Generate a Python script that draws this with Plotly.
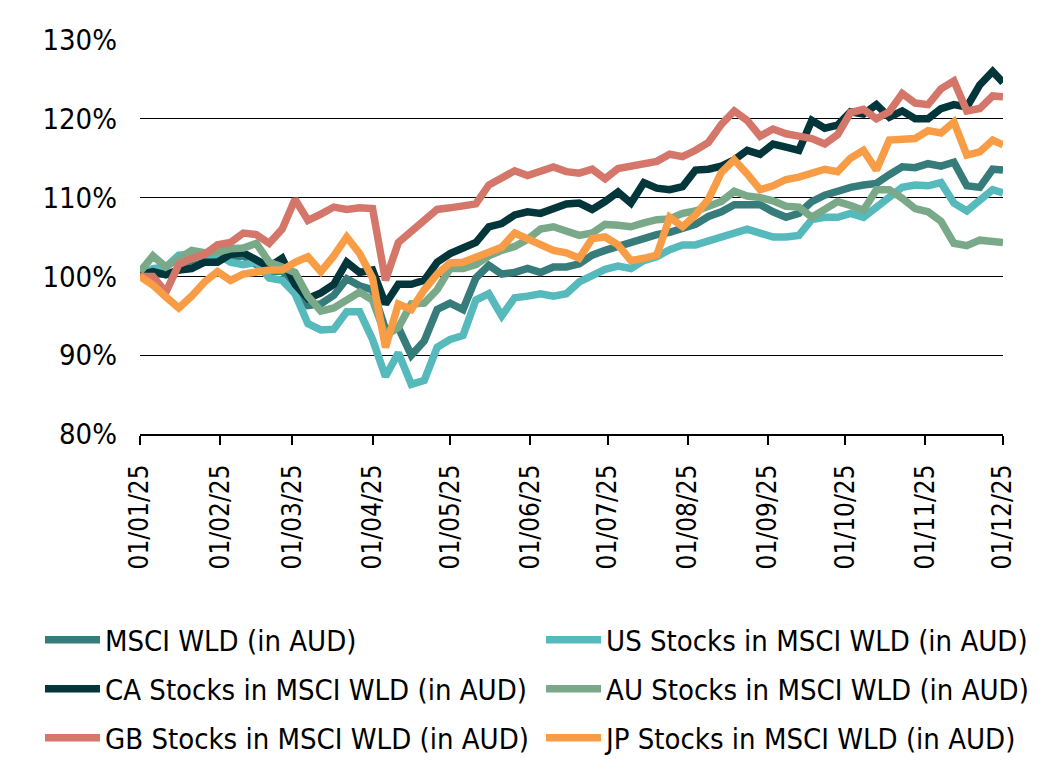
import pandas as pd
import plotly.graph_objects as go

# one reading every 5 days from 01/01/25, last one on 01/12/25
dates = list(pd.date_range("2025-01-01", periods=67, freq="5D")) + [pd.Timestamp("2025-12-01")]

msci = [100.0, 100.3, 100.3, 100.9, 101.3, 101.8, 102.1, 102.4, 102.6, 101.5,
        100.6, 100.8, 98.5, 96.3, 96.5, 97.6, 99.7, 98.8, 98.3, 93.3,
        93.5, 90.0, 91.8, 95.8, 96.6, 95.8, 99.8, 101.4, 100.3, 100.5,
        101.0, 100.5, 101.2, 101.2, 101.6, 102.7, 103.3, 103.8, 104.3, 104.9,
        105.3, 105.6, 106.0, 106.6, 107.6, 108.2, 109.1, 109.0, 109.1, 108.2,
        107.5, 108.0, 109.5, 110.3, 110.9, 111.3, 111.6, 111.8, 112.9, 113.9,
        113.8, 114.3, 114.0, 114.5, 111.5, 111.3, 113.6,
        113.5]

ca = [100.2, 100.6, 100.2, 100.8, 101.0, 101.8, 101.8, 102.8, 103.0, 102.0,
      101.2, 102.3, 99.0, 97.2, 97.9, 99.0, 101.8, 100.5, 100.8, 96.5,
      99.0, 99.0, 99.5, 101.8, 102.9, 103.6, 104.3, 106.3, 106.7, 107.8,
      108.2, 108.0, 108.6, 109.2, 109.3, 108.5, 109.5, 110.7, 109.3, 111.9,
      111.2, 111.0, 111.4, 113.5, 113.6, 114.0, 114.8, 116.0, 115.5, 116.8,
      116.4, 116.0, 119.8, 118.8, 119.2, 120.9, 120.6, 121.8, 120.2, 121.0,
      120.0, 120.0, 121.3, 121.8, 121.5, 124.3, 126.0,
      124.6]

gb = [100.0, 100.0, 98.0, 101.5, 102.3, 102.8, 104.0, 104.3, 105.5, 105.3,
      104.2, 106.0, 109.8, 107.1, 107.9, 108.8, 108.5, 108.7, 108.6, 99.5,
      104.3, 105.8, 107.0, 108.5, 108.7, 109.0, 109.2, 111.6, 112.5, 113.4,
      112.8, 113.3, 113.9, 113.3, 113.1, 113.6, 112.4, 113.7, 114.0, 114.5,
      114.6, 115.5, 115.2, 116.0, 117.0, 119.3, 121.0, 119.8, 117.8, 118.7,
      118.1, 117.8, 117.5, 116.8, 118.0, 120.8, 121.2, 120.0, 120.9, 123.2,
      122.0, 121.8, 123.8, 124.8, 121.0, 121.3, 122.9,
      122.8]

us = [100.0, 101.0, 101.2, 102.7, 102.8, 102.5, 102.8, 101.8, 101.5, 101.8,
      99.8, 99.5, 97.8, 94.0, 93.2, 93.3, 95.5, 95.5, 92.0, 87.3,
      90.3, 86.3, 86.8, 91.0, 92.0, 92.5, 97.0, 97.8, 95.0, 97.3,
      97.5, 97.8, 97.5, 97.8, 99.3, 100.2, 100.9, 101.3, 101.0, 102.0,
      102.5, 103.4, 104.0, 104.0, 104.5, 105.1, 105.5, 106.0, 105.5, 105.0,
      105.0, 105.2, 107.2, 107.5, 107.5, 108.0, 107.5, 108.7, 110.0, 111.3,
      111.6, 111.5, 111.9, 109.3, 108.3, 109.8, 111.0,
      110.6]

au = [100.6, 102.6, 101.2, 102.3, 103.3, 103.0, 103.1, 103.5, 103.6, 104.2,
      101.8, 101.2, 100.5, 97.5, 95.6, 96.0, 97.0, 98.0, 97.0, 92.5,
      93.5, 96.5, 96.6, 98.3, 101.0, 101.0, 101.5, 102.6, 103.3, 103.8,
      104.7, 106.0, 106.3, 105.8, 105.2, 105.5, 106.6, 106.5, 106.3, 106.8,
      107.2, 107.3, 108.0, 108.3, 109.0, 109.5, 110.8, 110.2, 110.0, 109.6,
      108.9, 108.8, 107.5, 108.4, 109.5, 109.0, 108.4, 111.0, 111.0, 109.9,
      108.6, 108.2, 107.0, 104.2, 103.9, 104.6, 104.3,
      104.3]

jp = [100.0, 98.9, 97.4, 96.0, 97.5, 99.3, 100.6, 99.5, 100.3, 100.6,
      100.8, 100.8, 101.8, 102.5, 100.6, 102.6, 105.0, 102.9, 99.8, 91.0,
      96.5, 95.8, 98.3, 100.3, 101.7, 101.8, 102.5, 103.0, 103.7, 105.5,
      104.8, 104.0, 103.3, 103.0, 102.3, 104.8, 105.0, 104.0, 102.0, 102.3,
      102.7, 107.5, 106.3, 107.8, 109.8, 113.2, 114.8, 113.0, 111.0, 111.5,
      112.3, 112.6, 113.0, 113.6, 113.3, 115.0, 116.0, 113.5, 117.3, 117.3,
      117.5, 118.5, 118.2, 119.6, 115.4, 115.8, 117.3,
      116.7]

y_ticks = [80, 90, 100, 110, 120, 130]
y_labels = ["80%", "90%", "100%", "110%", "120%", "130%"]

# name, values, colour, legend column, legend row
series = [
    ("MSCI WLD (in AUD)", msci, "#367c7b", 0, 0),
    ("US Stocks in MSCI WLD (in AUD)", us, "#56b9bc", 1, 0),
    ("CA Stocks in MSCI WLD (in AUD)", ca, "#02363a", 0, 1),
    ("AU Stocks in MSCI WLD (in AUD)", au, "#7aa98a", 1, 1),
    ("GB Stocks in MSCI WLD (in AUD)", gb, "#d4766a", 0, 2),
    ("JP Stocks in MSCI WLD (in AUD)", jp, "#f89c45", 1, 2),
]

font_family = "Liberation Sans Narrow, Arial Narrow, DejaVu Sans Condensed, sans-serif"

# legend block: two columns, three rows under the chart
leg_x = [-0.1159, 0.4647]
leg_y = [-0.5228, -0.6472, -0.7716]

fig = go.Figure()
legends = {}
for i, (name, vals, colour, col, row) in enumerate(series):
    key = "legend" if i == 0 else f"legend{i + 1}"
    fig.add_trace(go.Scatter(
        x=dates, y=vals, name=name, mode="lines",
        line=dict(color=colour, width=7.5),
        legend=key,
    ))
    legends[key] = dict(
        x=leg_x[col], y=leg_y[row], xanchor="left", yanchor="middle",
        orientation="h", itemwidth=55, font=dict(size=29),
        bgcolor="rgba(0,0,0,0)",
    )

# the page body adds 8px on the left and top, margins make up for it
fig.update_layout(
    width=1063, height=775,
    margin=dict(l=132, r=68, t=32, b=349, autoexpand=False),
    paper_bgcolor="white", plot_bgcolor="white",
    font=dict(family=font_family, size=29, color="black"),
    showlegend=True,
    hovermode=False,
    **legends,
)

fig.update_xaxes(
    type="date", range=["2025-01-01", "2025-12-01"],
    tick0="2025-01-01", dtick="M1", tickformat="%d/%m/%y",
    tickangle=-90, ticks="outside", ticklen=9, tickwidth=2, tickcolor="black",
    showline=True, linecolor="black", linewidth=2,
    showgrid=False, zeroline=False, ticklabelstandoff=9,
    tickfont=dict(size=26),
)
fig.update_yaxes(
    range=[80, 130], tickvals=y_ticks, ticktext=y_labels,
    showgrid=True, gridcolor="black", gridwidth=1.2,
    zeroline=False, showline=False, ticks="", ticklabelstandoff=22,
)

fig.write_html("out.html")
